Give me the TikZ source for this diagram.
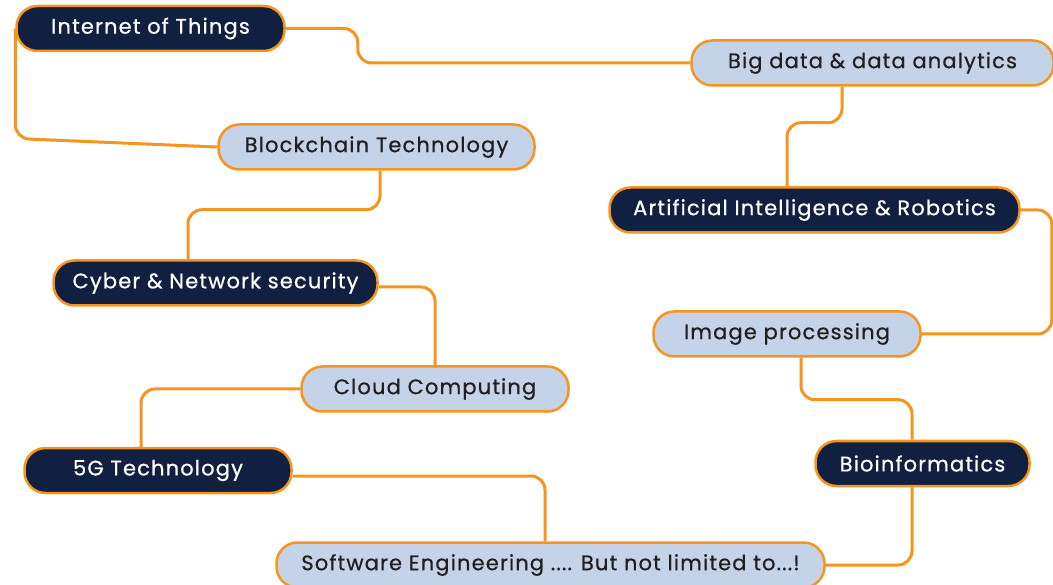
\documentclass[tikz,border=0pt]{standalone}
\usepackage{fontspec}
\setmainfont{Poppins}[LetterSpace=5.5, FakeBold=0.6]
\usetikzlibrary{backgrounds}
\definecolor{topicnavy}{HTML}{112041}
\definecolor{topicblue}{HTML}{C5D3E8}
\definecolor{linkorange}{HTML}{F7941D}
\tikzset{
  topic/.style={draw=linkorange, line width=2.5pt, rounded corners=21pt,
    minimum height=45pt, inner xsep=0pt, font=\fontsize{21}{24}\selectfont},
  darktopic/.style={topic, fill=topicnavy, text=white},
  lighttopic/.style={topic, fill=topicblue, text=black!88},
  link/.style={draw=linkorange, line width=3pt, rounded corners=14pt}
}
\begin{document}
\begin{tikzpicture}[x=1pt,y=-1pt]
      \useasboundingbox (0,0) rectangle (1053,585);
      \node[darktopic, minimum width=268pt] (iot) at (150.5,28.5) {Internet of Things};
      \node[lighttopic, minimum width=362pt] (bigdata) at (872.5,63) {Big data \& data analytics};
      \node[lighttopic, minimum width=316pt] (block) at (376.5,147) {Blockchain Technology};
      \node[darktopic, minimum width=410pt] (ai) at (814.5,210) {Artificial Intelligence \& Robotics};
      \node[darktopic, minimum width=324pt] (cyber) at (215.5,283) {Cyber \& Network security};
      \node[lighttopic, minimum width=267pt] (img) at (787,334) {Image processing};
      \node[lighttopic, minimum width=267pt] (cloud) at (435,389) {Cloud Computing};
      \node[darktopic, minimum width=214pt] (bio) at (922.5,463.5) {Bioinformatics};
      \node[darktopic, minimum width=267pt] (fiveg) at (158,470.5) {5G Technology};
      \node[lighttopic, minimum width=548pt] (soft) at (550.5,565) {Software Engineering .... But not limited to...!};
      \begin{scope}[on background layer]
        \draw[link] (iot.east) -- ++(72,0) |- (bigdata.west);
        \draw[link] (iot.west) -- ++(0,110) -- (block.west);
        \draw[link] ([xshift=3.5pt]block.south) -- ++(0,39) -| ([xshift=-27.5pt]cyber.north);
        \draw[link] ([yshift=-4pt]cyber.east) -| (cloud.north);
        \draw[link] (cloud.west) -| ([xshift=-17pt]fiveg.north);
        \draw[link] ([yshift=-5.5pt]fiveg.east) -| ([xshift=-5.5pt]soft.north);
        \draw[link] ([xshift=-30.5pt]bigdata.south) -- ++(0,36) -| ([xshift=-27.5pt]ai.north);
        \draw[link] (ai.east) -- ++(31,0) |- (img.east);
        \draw[link] ([xshift=14pt]img.south) -- ++(0,42) -| ([xshift=-10.5pt]bio.north);
        \draw[link] ([xshift=-10.5pt]bio.south) |- (soft.east);
      \end{scope}
    \end{tikzpicture}
\end{document}
